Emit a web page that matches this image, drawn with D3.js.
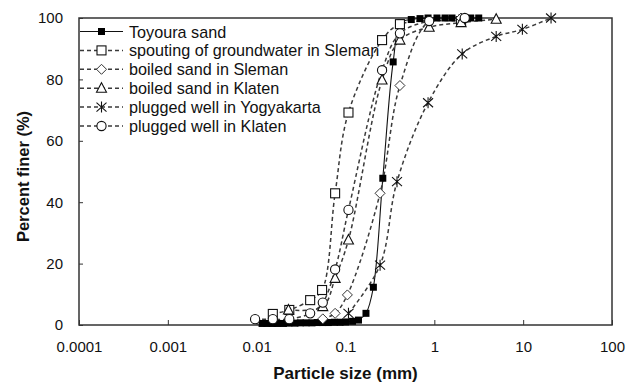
<!DOCTYPE html>
<html>
<head>
<meta charset="utf-8">
<script src="https://cdn.jsdelivr.net/npm/d3@7"></script>
<style>
  body { margin: 0; background: #fff; }
  text { font-family: "Liberation Sans", Arial, sans-serif; }
</style>
</head>
<body>
<div id="chart"></div>
<script>
// Particle size (mm) and percent finer (%) for each sample
const toyouraSize = [0.0115, 0.013, 0.015, 0.017, 0.02, 0.023, 0.027, 0.031, 0.036, 0.042, 0.048, 0.055, 0.064, 0.075, 0.087, 0.1, 0.12, 0.14, 0.17, 0.206, 0.263, 0.344, 0.42, 0.55, 0.69, 0.85, 1.07, 1.32, 1.58, 2.04, 2.57, 3.16];
const toyouraPct = [0.5, 0.5, 0.5, 0.5, 0.5, 0.6, 0.6, 0.7, 0.7, 0.7, 0.8, 0.8, 0.8, 0.9, 0.9, 1.0, 1.2, 1.6, 3.8, 12.3, 47.8, 85.7, 98.5, 99.5, 99.8, 100, 100, 100, 100, 100, 100, 100];

const spoutSlemanSize = [0.0152, 0.0233, 0.040, 0.0545, 0.0764, 0.108, 0.258, 0.41, 2.0];
const spoutSlemanPct = [3.6, 4.9, 8.1, 11.4, 42.9, 69.2, 92.8, 98, 99];

const boiledSlemanSize = [0.0555, 0.0764, 0.105, 0.245, 0.41, 0.875, 2.0];
const boiledSlemanPct = [2.0, 3.8, 9.8, 42.9, 78, 99, 100];

const boiledKlatenSize = [0.0228, 0.0555, 0.0764, 0.108, 0.258, 0.41, 0.875, 2.0, 4.97];
const boiledKlatenPct = [4.9, 6.0, 15.2, 27.7, 79.8, 92.8, 97, 98.5, 99.6];

const pluggedYogyaSize = [0.108, 0.245, 0.38, 0.85, 2.06, 4.97, 9.8, 20.6];
const pluggedYogyaPct = [3.8, 19.5, 46.7, 72.4, 88.3, 94, 96.3, 100];

const pluggedKlatenSize = [0.0096, 0.0152, 0.0233, 0.040, 0.0555, 0.0764, 0.108, 0.258, 0.41, 0.875, 2.2];
const pluggedKlatenPct = [1.9, 1.9, 1.9, 3.8, 7.3, 18.1, 37.5, 83, 95, 99, 100];

const seriesNames = ["Toyoura sand", "spouting of groundwater in Sleman", "boiled sand in Sleman",
  "boiled sand in Klaten", "plugged well in Yogyakarta", "plugged well in Klaten"];
const xTicks = [0.0001, 0.001, 0.01, 0.1, 1, 10, 100];
const yTicks = [0, 20, 40, 60, 80, 100];

const series = [
  { name: seriesNames[0], size: toyouraSize, pct: toyouraPct, marker: "fsquare", dashed: false },
  { name: seriesNames[1], size: spoutSlemanSize, pct: spoutSlemanPct, marker: "square", dashed: true },
  { name: seriesNames[2], size: boiledSlemanSize, pct: boiledSlemanPct, marker: "diamond", dashed: true },
  { name: seriesNames[3], size: boiledKlatenSize, pct: boiledKlatenPct, marker: "triangle", dashed: true },
  { name: seriesNames[4], size: pluggedYogyaSize, pct: pluggedYogyaPct, marker: "star", dashed: true },
  { name: seriesNames[5], size: pluggedKlatenSize, pct: pluggedKlatenPct, marker: "circle", dashed: true }
];

const W = 640, H = 383;
const plotLeft = 79, plotRight = 612, plotTop = 18, plotBottom = 325;

const svg = d3.select("#chart").append("svg")
  .attr("width", W).attr("height", H);

const x = d3.scaleLog().domain([0.0001, 100]).range([plotLeft, plotRight]);
const y = d3.scaleLinear().domain([0, 100]).range([plotBottom, plotTop]);

// plot frame
svg.append("rect")
  .attr("x", plotLeft).attr("y", plotTop)
  .attr("width", plotRight - plotLeft).attr("height", plotBottom - plotTop)
  .attr("fill", "none").attr("stroke", "#333").attr("stroke-width", 1.5);

// axes with inward ticks
svg.append("g")
  .attr("transform", `translate(0,${plotBottom})`)
  .call(d3.axisBottom(x).tickValues(xTicks).tickSize(-5).tickPadding(16).tickFormat(d => String(d)))
  .call(g => g.select(".domain").remove())
  .call(g => g.selectAll("line").attr("stroke", "#333"))
  .call(g => g.selectAll("text").attr("font-size", 15).attr("fill", "#111")
    .attr("font-family", "'Liberation Sans', Arial, sans-serif"));

svg.append("g")
  .attr("transform", `translate(${plotLeft},0)`)
  .call(d3.axisLeft(y).tickValues(yTicks).tickSize(-4).tickPadding(16))
  .call(g => g.select(".domain").remove())
  .call(g => g.selectAll("line").attr("stroke", "#333"))
  .call(g => g.selectAll("text").attr("font-size", 15).attr("fill", "#111")
    .attr("font-family", "'Liberation Sans', Arial, sans-serif"));

// axis titles
svg.append("text")
  .attr("x", (plotLeft + plotRight) / 2).attr("y", 379)
  .attr("text-anchor", "middle").attr("font-size", 17).attr("font-weight", "bold")
  .attr("fill", "#111").text("Particle size (mm)");

svg.append("text")
  .attr("transform", `translate(29,${(plotTop + plotBottom) / 2 + 5}) rotate(-90)`)
  .attr("text-anchor", "middle").attr("font-size", 16.5).attr("font-weight", "bold")
  .attr("fill", "#111").text("Percent finer (%)");

// marker drawing
function drawMarker(g, type, cx, cy) {
  if (type === "fsquare") {
    g.append("rect").attr("x", cx - 3.5).attr("y", cy - 3.5).attr("width", 7).attr("height", 7)
      .attr("fill", "#000");
  } else if (type === "square") {
    g.append("rect").attr("x", cx - 4.5).attr("y", cy - 4.5).attr("width", 9).attr("height", 9)
      .attr("fill", "#fff").attr("stroke", "#111").attr("stroke-width", 1.1);
  } else if (type === "circle") {
    g.append("circle").attr("cx", cx).attr("cy", cy).attr("r", 4.6)
      .attr("fill", "#fff").attr("stroke", "#111").attr("stroke-width", 1.1);
  } else if (type === "diamond") {
    g.append("path").attr("d", `M${cx},${cy - 5}L${cx + 5},${cy}L${cx},${cy + 5}L${cx - 5},${cy}Z`)
      .attr("fill", "#fff").attr("stroke", "#333").attr("stroke-width", 1);
  } else if (type === "triangle") {
    g.append("path").attr("d", `M${cx},${cy - 5.5}L${cx + 5},${cy + 4}L${cx - 5},${cy + 4}Z`)
      .attr("fill", "#fff").attr("stroke", "#111").attr("stroke-width", 1.1);
  } else if (type === "star") {
    g.append("path")
      .attr("d", `M${cx},${cy - 5.5}L${cx},${cy + 5.5}M${cx - 5},${cy - 4.5}L${cx + 5},${cy + 4.5}M${cx - 5},${cy + 4.5}L${cx + 5},${cy - 4.5}`)
      .attr("fill", "none").attr("stroke", "#111").attr("stroke-width", 1.1);
  }
}

const line = d3.line()
  .x(d => x(d[0]))
  .y(d => y(d[1]))
  .curve(d3.curveCatmullRom.alpha(0.5));

const plot = svg.append("g");

// lines first, then markers
series.forEach(s => {
  const pts = s.size.map((v, i) => [v, s.pct[i]]);
  plot.append("path")
    .datum(pts)
    .attr("d", line)
    .attr("fill", "none")
    .attr("stroke", s.dashed ? "#3a3a3a" : "#111")
    .attr("stroke-width", s.dashed ? 1.5 : 1.1)
    .attr("stroke-dasharray", s.dashed ? "4,3" : null);
});

series.forEach(s => {
  const g = plot.append("g");
  s.size.forEach((v, i) => drawMarker(g, s.marker, x(v), y(s.pct[i])));
});

// legend
const legend = svg.append("g");
series.forEach((s, i) => {
  const ly = 31.5 + i * 18.9;
  legend.append("line")
    .attr("x1", 80).attr("x2", 123).attr("y1", ly).attr("y2", ly)
    .attr("stroke", s.dashed ? "#3a3a3a" : "#111")
    .attr("stroke-width", s.dashed ? 1.5 : 1.1)
    .attr("stroke-dasharray", s.dashed ? "4,3" : null);
  drawMarker(legend, s.marker, 101.5, ly);
  legend.append("text")
    .attr("x", 129).attr("y", ly + 6)
    .attr("font-size", 16.2).attr("fill", "#111")
    .text(s.name);
});
</script>
</body>
</html>
